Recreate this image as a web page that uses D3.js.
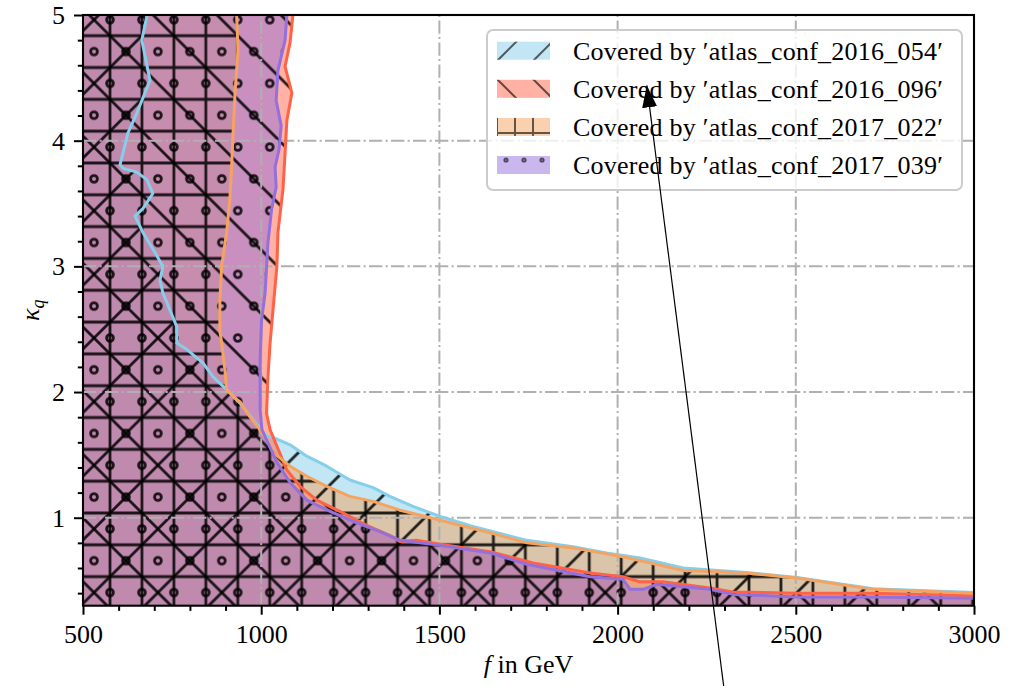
<!DOCTYPE html>
<html>
<head>
<meta charset="utf-8">
<script src="https://cdn.jsdelivr.net/npm/d3@7"></script>
<style>
  body { margin: 0; background: #fff; }
  text { font-family: "Liberation Serif", "DejaVu Serif", serif; fill: #000; }
</style>
</head>
<body>
<svg id="chart" width="1022" height="686"></svg>
<script>
// exclusion boundaries, [f in GeV, kappa_q] (top -> bottom right)
const conf2016_054 = [[680,5.0],[665,4.80],[688,4.48],[651,4.22],[626,4.06],[604,3.81],[612,3.78],[651,3.75],
  [679,3.69],[696,3.58],[668,3.46],[646,3.40],[668,3.27],[702,3.11],[724,3.00],[716,2.89],[724,2.79],
  [763,2.52],[763,2.39],[791,2.34],[837,2.23],[865,2.12],[903,2.02],[941,1.91],[977,1.78],[1015,1.65],
  [1033,1.64],[1081,1.58],[1128,1.49],[1184,1.41],[1249,1.30],[1314,1.24],[1361,1.17],[1426,1.09],
  [1502,1.01],[1594,0.93],[1745,0.82],[1875,0.77],[1969,0.72],[2063,0.68],[2184,0.60],[2362,0.565],
  [2503,0.525],[2717,0.435],[3000,0.405]];
const conf2016_096 = [[1089,5.0],[1081,4.78],[1067,4.59],[1086,4.38],[1072,4.16],[1067,3.90],[1061,3.61],
  [1047,3.27],[1044,3.00],[1033,2.65],[1025,2.39],[1019,2.12],[1015,1.83],[1025,1.70],[1044,1.57],
  [1072,1.38],[1109,1.25],[1156,1.14],[1221,1.05],[1296,0.94],[1361,0.86],[1390,0.81],[1436,0.82],
  [1502,0.79],[1642,0.73],[1763,0.64],[1923,0.56],[2015,0.53],[2063,0.49],[2127,0.49],[2259,0.44],
  [2324,0.41],[2503,0.40],[2717,0.40],[3000,0.38]];
const conf2017_022 = [[931,5.0],[935,4.72],[927,4.40],[921,4.06],[917,3.79],[912,3.53],[903,3.27],[889,3.00],
  [884,2.73],[884,2.49],[889,2.39],[898,2.18],[903,2.02],[931,1.94],[941,1.92],[969,1.80],[991,1.72],
  [1015,1.62],[1033,1.52],[1081,1.41],[1128,1.33],[1184,1.25],[1249,1.17],[1314,1.13],[1390,1.06],
  [1502,0.98],[1642,0.88],[1745,0.80],[1875,0.76],[2015,0.69],[2184,0.58],[2362,0.56],[2503,0.52],
  [2717,0.43],[3000,0.40]];
const conf2017_039 = [[1072,5.0],[1067,4.80],[1047,4.56],[1042,4.32],[1056,4.12],[1050,3.93],[1039,3.79],
  [1042,3.63],[1029,3.45],[1019,3.19],[1011,2.79],[1001,2.57],[997,2.26],[997,1.86],[1002,1.70],
  [1015,1.62],[1044,1.44],[1081,1.28],[1128,1.14],[1201,1.04],[1268,0.96],[1333,0.89],[1390,0.82],
  [1446,0.80],[1502,0.78],[1642,0.72],[1745,0.63],[1923,0.53],[2015,0.51],[2035,0.43],[2071,0.43],
  [2110,0.47],[2184,0.45],[2259,0.43],[2324,0.39],[2503,0.37],[2717,0.37],[3000,0.36]];

const analyses = ["atlas_conf_2016_054", "atlas_conf_2016_096", "atlas_conf_2017_022", "atlas_conf_2017_039"];
const colors = ["skyblue", "tomato", "sandybrown", "mediumpurple"];
const hatches = ["fwd", "back", "cross", "dots"];

const fTicks = [500, 1000, 1500, 2000, 2500, 3000];
const kTicks = [1, 2, 3, 4, 5];
const fDomain = [500, 3000];
const kDomain = [0.3, 5];

// stray annotation arrow on the picture, [f, kappa]
const arrowFrom = [2299, -0.37];
const arrowTo = [2082, 4.44];

const boundaries = [conf2016_054, conf2016_096, conf2017_022, conf2017_039];

const svg = d3.select("#chart");
const x = d3.scaleLinear().domain(fDomain).range([83, 974]);
const y = d3.scaleLinear().domain(kDomain).range([605.7, 15]);

const defs = svg.append("defs");
defs.append("clipPath").attr("id", "plotclip")
  .append("rect").attr("x", 83).attr("y", 15).attr("width", 891).attr("height", 590.7);

// matplotlib-like hatches, one tile = 2x2 grid cells
function makeHatch(id, kind, W, H, x0, y0, lw, r) {
  const p = defs.append("pattern").attr("id", id)
    .attr("patternUnits", "userSpaceOnUse")
    .attr("x", x0).attr("y", y0).attr("width", W).attr("height", H);
  const g = p.append("g").attr("stroke", "#000").attr("stroke-width", lw).attr("fill", "none");
  if (kind === "fwd") {
    [-1, 0, 1, 2].forEach(k => {
      const c = H * (0.5 + k);
      g.append("line").attr("x1", -W).attr("y1", c + H).attr("x2", 2 * W).attr("y2", c - 2 * H);
    });
  } else if (kind === "back") {
    [-1, 0, 1].forEach(k => {
      g.append("line").attr("x1", -W).attr("y1", H * (-1 - k)).attr("x2", 2 * W).attr("y2", H * (2 - k));
    });
  } else if (kind === "cross") {
    [0, W / 2, W].forEach(v => g.append("line").attr("x1", v).attr("x2", v).attr("y1", -1).attr("y2", H + 1));
    [0, H / 2, H].forEach(v => g.append("line").attr("y1", v).attr("y2", v).attr("x1", -1).attr("x2", W + 1));
  } else {
    [[W / 4, H / 4], [3 * W / 4, H / 4], [0, 3 * H / 4], [W / 2, 3 * H / 4], [W, 3 * H / 4]].forEach(d => {
      g.append("circle").attr("cx", d[0]).attr("cy", d[1]).attr("r", r)
        .attr("stroke-width", lw).attr("fill", "none");
    });
  }
}
hatches.forEach(h => {
  makeHatch("h-" + h, h, 63.9, 63.64, 110, 35.7, 2.8, 3.4);
  makeHatch("hl-" + h, h, 36, 36, 497, 43, 2.0, 1.6);
});

const plot = svg.append("g").attr("clip-path", "url(#plotclip)");

const area = d3.line().x(d => x(d[0])).y(d => y(d[1]));
const polyOf = pts => [[fDomain[0], kDomain[1]], ...pts, [fDomain[1], kDomain[0]], [fDomain[0], kDomain[0]]];

// translucent fills
boundaries.forEach((pts, i) => {
  plot.append("path").attr("d", area(polyOf(pts)) + "Z")
    .attr("fill", colors[i]).attr("fill-opacity", 0.5);
});
// hatches on top of all fills
boundaries.forEach((pts, i) => {
  plot.append("path").attr("d", area(polyOf(pts)) + "Z")
    .attr("fill", "url(#h-" + hatches[i] + ")").attr("opacity", 0.85);
});

// dash-dot grid
const grid = plot.append("g").attr("stroke", "#b0b0b0").attr("stroke-width", 2)
  .attr("stroke-dasharray", "13.3,3.3,2.1,3.3").attr("fill", "none");
fTicks.forEach(v => grid.append("line").attr("x1", x(v)).attr("x2", x(v)).attr("y1", y(kDomain[0])).attr("y2", y(kDomain[1])));
kTicks.forEach(v => grid.append("line").attr("y1", y(v)).attr("y2", y(v)).attr("x1", x(fDomain[0])).attr("x2", x(fDomain[1])));

// boundary lines
boundaries.forEach((pts, i) => {
  plot.append("path").attr("d", area(pts)).attr("fill", "none")
    .attr("stroke", colors[i]).attr("stroke-width", 3).attr("stroke-linejoin", "round");
});

// axes
svg.append("g").attr("transform", "translate(0," + y(kDomain[0]) + ")")
  .call(d3.axisBottom(x).tickValues(fTicks).tickFormat(d3.format("d")).tickSize(9).tickPadding(9.8));
svg.append("g").attr("transform", "translate(0," + y(kDomain[0]) + ")")
  .call(d3.axisBottom(x).tickValues(d3.range(500, 3001, 100).filter(v => v % 500)).tickFormat("").tickSize(5.2));
svg.append("g").attr("transform", "translate(" + x(fDomain[0]) + ",0)")
  .call(d3.axisLeft(y).tickValues(kTicks).tickFormat(d3.format("d")).tickSize(9).tickPadding(9));
svg.append("g").attr("transform", "translate(" + x(fDomain[0]) + ",0)")
  .call(d3.axisLeft(y).tickValues(d3.range(4, 50, 2).map(v => v / 10).filter(v => v % 1 > 0.01)).tickFormat("").tickSize(5.2));
svg.selectAll(".domain").remove();
svg.selectAll(".tick line").attr("stroke", "#000").attr("stroke-width", 2);
svg.selectAll(".tick text").attr("font-size", 26).attr("font-family", "Liberation Serif");

// spines
svg.append("rect").attr("x", x(fDomain[0])).attr("y", y(kDomain[1]))
  .attr("width", x(fDomain[1]) - x(fDomain[0])).attr("height", y(kDomain[0]) - y(kDomain[1]))
  .attr("fill", "none").attr("stroke", "#000").attr("stroke-width", 2.1);

// axis labels
const xl = svg.append("text").attr("x", (x(fDomain[0]) + x(fDomain[1])) / 2).attr("y", 673)
  .attr("text-anchor", "middle").attr("font-size", 26);
xl.append("tspan").attr("font-style", "italic").text("f");
xl.append("tspan").text(" in GeV");

const yl = svg.append("text").attr("transform", "translate(39," + (y(kDomain[0]) + y(kDomain[1])) / 2 + ") rotate(-90)")
  .attr("text-anchor", "middle").attr("font-size", 26);
yl.append("tspan").attr("font-style", "italic").text("κ");
yl.append("tspan").attr("font-style", "italic").attr("font-size", 18).attr("dy", 5).text("q");

// legend
const leg = svg.append("g");
leg.append("rect").attr("x", 487).attr("y", 30).attr("width", 475).attr("height", 160).attr("rx", 6)
  .attr("fill", "#fff").attr("fill-opacity", 0.8).attr("stroke", "#ccc").attr("stroke-width", 2);
analyses.forEach((name, i) => {
  const cy = 50.7 + 38.1 * i;
  leg.append("rect").attr("x", 497).attr("y", cy - 9).attr("width", 53).attr("height", 18)
    .attr("fill", colors[i]).attr("fill-opacity", 0.5);
  leg.append("rect").attr("x", 497).attr("y", cy - 9).attr("width", 53).attr("height", 18)
    .attr("fill", "url(#hl-" + hatches[i] + ")").attr("opacity", 0.6);
  leg.append("text").attr("x", 573).attr("y", cy + 9).attr("font-size", 26)
    .attr("textLength", 370).attr("lengthAdjust", "spacing")
    .text("Covered by \u2032" + name + "\u2032");
});

// arrow
defs.append("marker").attr("id", "head").attr("viewBox", "0 0 10 10").attr("refX", 10).attr("refY", 5)
  .attr("markerWidth", 22).attr("markerHeight", 22).attr("markerUnits", "userSpaceOnUse").attr("orient", "auto")
  .append("path").attr("d", "M0,1.6L10,5L0,8.4Z").attr("fill", "#000");
svg.append("line").attr("x1", x(arrowFrom[0])).attr("y1", y(arrowFrom[1]))
  .attr("x2", x(arrowTo[0])).attr("y2", y(arrowTo[1]))
  .attr("stroke", "#000").attr("stroke-width", 1.2).attr("marker-end", "url(#head)");
</script>
</body>
</html>
